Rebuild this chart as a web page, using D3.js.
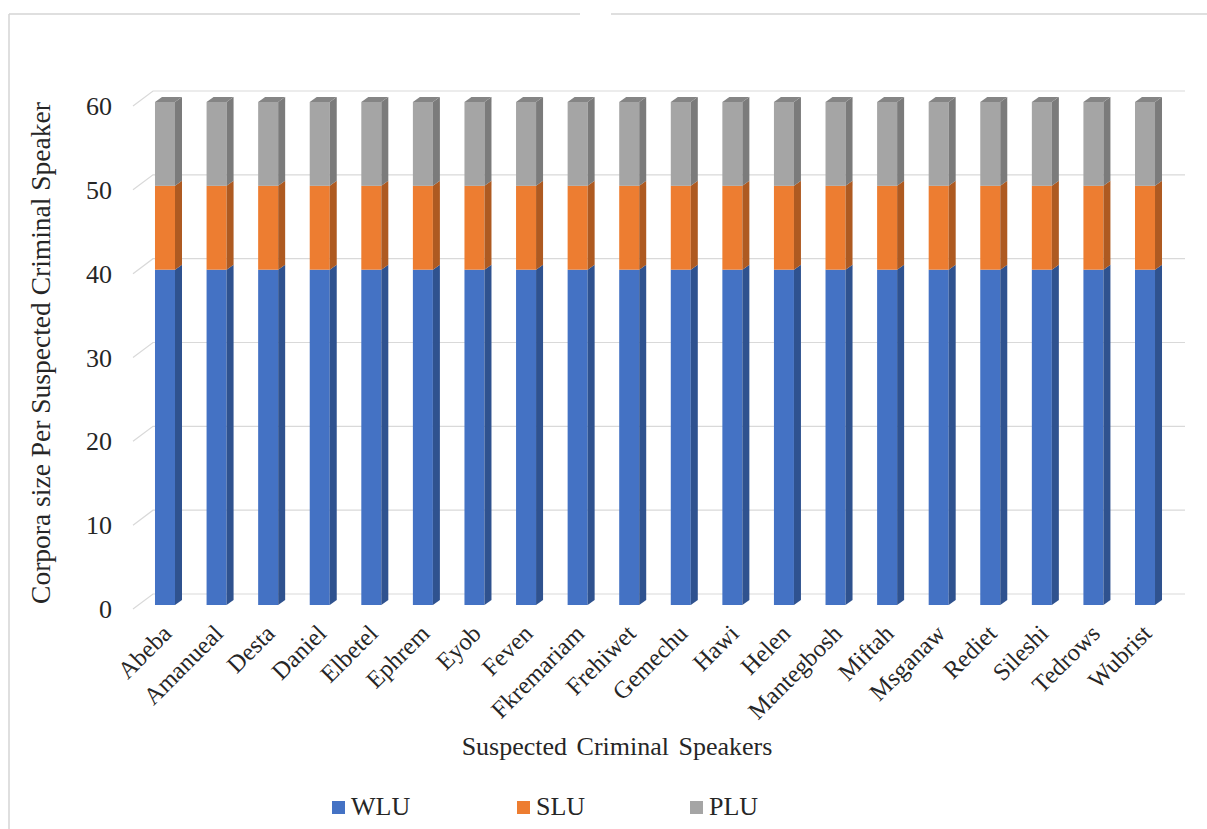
<!DOCTYPE html>
<html>
<head>
<meta charset="utf-8">
<script src="https://cdn.jsdelivr.net/npm/d3@7"></script>
<style>
  body { margin: 0; background: #fff; }
</style>
</head>
<body>
<div class="chart"></div>
<script>
const speakers = ["Abeba", "Amanueal", "Desta", "Daniel", "Elbetel", "Ephrem", "Eyob", "Feven",
  "Fkremariam", "Frehiwet", "Gemechu", "Hawi", "Helen", "Mantegbosh", "Miftah", "Msganaw",
  "Rediet", "Sileshi", "Tedrows", "Wubrist"];
const wlu = [40, 40, 40, 40, 40, 40, 40, 40, 40, 40, 40, 40, 40, 40, 40, 40, 40, 40, 40, 40];
const slu = [10, 10, 10, 10, 10, 10, 10, 10, 10, 10, 10, 10, 10, 10, 10, 10, 10, 10, 10, 10];
const plu = [10, 10, 10, 10, 10, 10, 10, 10, 10, 10, 10, 10, 10, 10, 10, 10, 10, 10, 10, 10];
const seriesNames = ["WLU", "SLU", "PLU"];
const yTicks = [0, 10, 20, 30, 40, 50, 60];

const colors = { WLU: "#4472C4", SLU: "#ED7D31", PLU: "#A5A5A5" };
const sideColors = { WLU: "#2F528F", SLU: "#AE5A21", PLU: "#7B7B7B" };
const topColors = { WLU: "#3A62A8", SLU: "#C96A28", PLU: "#858585" };

const serif = "'Liberation Serif', 'Times New Roman', Times, serif";

const rows = speakers.map((s, i) => ({ name: s, WLU: wlu[i], SLU: slu[i], PLU: plu[i] }));
const stacked = d3.stack().keys(seriesNames)(rows);

const svg = d3.select(".chart").append("svg")
  .attr("width", 1207)
  .attr("height", 829)
  .attr("font-family", serif)
  .style("font-family", serif);

// outer frame
const frame = svg.append("g").attr("stroke", "#d4d4d4").attr("stroke-width", 1.5);
frame.append("line").attr("x1", 9).attr("x2", 580).attr("y1", 14).attr("y2", 14);
frame.append("line").attr("x1", 611).attr("x2", 1207).attr("y1", 14).attr("y2", 14);
frame.append("line").attr("x1", 9).attr("x2", 9).attr("y1", 14).attr("y2", 829);

const x = d3.scaleBand().domain(speakers).range([129.2, 1180.8]).paddingInner(0.612).paddingOuter(0.5);
const y = d3.scaleLinear().domain([0, 60]).range([605, 102]);

const dx = 20, dy = -15;   // back-wall depth
const bx = 7, by = -5;     // bar depth

// gridlines (back wall) with left diagonals
const grid = svg.append("g").attr("stroke", "#d9d9d9").attr("stroke-width", 1.2).attr("fill", "none");
grid.selectAll("path").data(yTicks).join("path")
  .attr("d", d => `M133,${y(d) + 4} L${133 + dx},${y(d) + 4 + dy} L1185,${y(d) + 4 + dy}`);

// tick labels
svg.append("g").selectAll("text").data(yTicks).join("text")
  .attr("x", 112)
  .attr("y", d => y(d) + 4)
  .attr("dy", "0.35em")
  .attr("text-anchor", "end")
  .attr("fill", "#262626")
  .style("font-size", "26px")
  .text(d => d);

// bars
const bars = svg.append("g");
stacked.forEach(layer => {
  const key = layer.key;
  const g = bars.append("g");
  g.selectAll("rect").data(layer).join("rect")
    .attr("x", d => x(d.data.name))
    .attr("y", d => y(d[1]))
    .attr("width", x.bandwidth())
    .attr("height", d => y(d[0]) - y(d[1]))
    .attr("fill", colors[key]);
  g.selectAll("path.side").data(layer).join("path")
    .attr("class", "side")
    .attr("fill", sideColors[key])
    .attr("d", d => {
      const x1 = x(d.data.name) + x.bandwidth();
      return `M${x1},${y(d[1])} L${x1 + bx},${y(d[1]) + by} L${x1 + bx},${y(d[0]) + by} L${x1},${y(d[0])} Z`;
    });
  if (key === "PLU") {
    g.selectAll("path.top").data(layer).join("path")
      .attr("class", "top")
      .attr("fill", topColors[key])
      .attr("d", d => {
        const x0 = x(d.data.name), x1 = x0 + x.bandwidth(), yt = y(d[1]);
        return `M${x0},${yt} L${x0 + bx},${yt + by} L${x1 + bx},${yt + by} L${x1},${yt} Z`;
      });
  }
});

// category labels
svg.append("g").selectAll("text").data(speakers).join("text")
  .attr("transform", d => `translate(${x(d) + x.bandwidth() / 2 + 8},${635}) rotate(-45)`)
  .attr("text-anchor", "end")
  .attr("fill", "#262626")
  .style("font-size", "24.5px")
  .text(d => d);

// axis titles
svg.append("text")
  .attr("x", 617)
  .attr("y", 755)
  .attr("text-anchor", "middle")
  .attr("fill", "#262626")
  .style("font-size", "26px")
  .style("word-spacing", "3px")
  .text("Suspected Criminal Speakers");

svg.append("text")
  .attr("transform", "translate(50,353) rotate(-90)")
  .attr("text-anchor", "middle")
  .attr("fill", "#262626")
  .style("font-size", "27.5px")
  .text("Corpora size Per Suspected Criminal Speaker");

// legend
const legendX = [332, 517, 690];
const legend = svg.append("g").selectAll("g").data(seriesNames).join("g")
  .attr("transform", (d, i) => `translate(${legendX[i]},0)`);
legend.append("rect")
  .attr("x", 0).attr("y", 801)
  .attr("width", 13).attr("height", 13)
  .attr("fill", d => colors[d]);
legend.append("text")
  .attr("x", 19).attr("y", 815)
  .attr("fill", "#262626")
  .style("font-size", "26px")
  .text(d => d);
</script>
</body>
</html>
